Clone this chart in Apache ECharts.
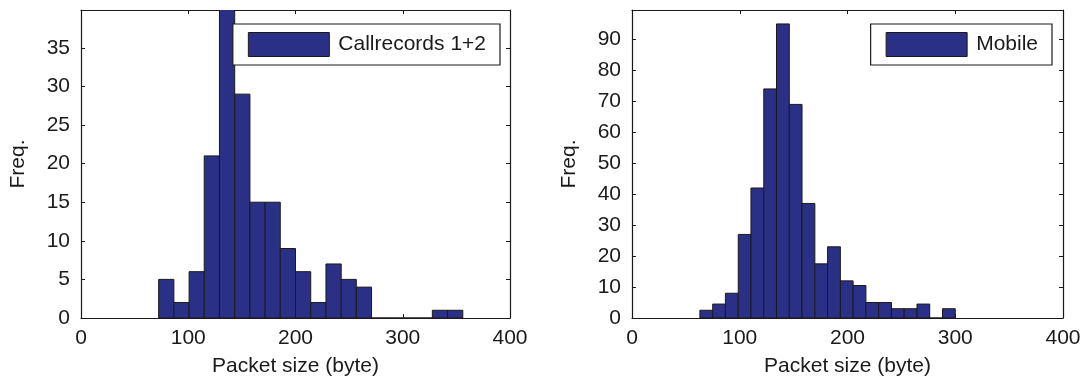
<!DOCTYPE html>
<html>
<head>
<meta charset="utf-8">
<script src="https://cdn.jsdelivr.net/npm/echarts@6/dist/echarts.min.js"></script>
<style>html,body{margin:0;padding:0;background:#fff}#c{width:1087px;height:382px}</style>
</head>
<body>
<div id="c"></div>
<script>
// ---- data ----
const leftName = 'Callrecords 1+2';
const leftEdges = [72.4, 86.6, 100.8, 114.9, 129.1, 143.3, 157.5, 171.7, 185.8, 200.0, 214.2, 228.4, 242.6, 256.7, 270.9, 285.1, 299.3, 313.5, 327.6, 341.8, 356.0];
const leftFreq  = [5, 2, 6, 21, 40, 29, 15, 15, 9, 6, 2, 7, 5, 4, 0, 0, 0, 0, 1, 1];

const rightName = 'Mobile';
const rightEdges = [63.0, 74.9, 86.7, 98.6, 110.4, 122.3, 134.1, 146.0, 157.8, 169.7, 181.5, 193.4, 205.2, 217.1, 228.9, 240.8, 252.6, 264.5, 276.3, 288.2, 300.0];
const rightFreq  = [2.5, 4.5, 8, 27, 42, 74, 95, 69, 37, 17.5, 23, 12, 10.5, 5, 5, 3, 3, 4.5, 0, 3];

const xMin = 0, xMax = 400, xStep = 100;
const leftYMax = 39.9, leftYStep = 5;
const rightYMax = 99.5, rightYStep = 10;
const xTitle = 'Packet size (byte)';
const yTitle = 'Freq.';

// ---- build ----
const FONT = 'Liberation Sans';
const FS = 21;
const TXT = '#1a1a1a';
const BAR = '#2b3087';
const EDGE = '#1a1a1a';

function bins(edges, freq) {
  return freq.map((f, i) => [edges[i], edges[i + 1], f]);
}
function renderBar(params, api) {
  const x0 = api.value(0), x1 = api.value(1), v = api.value(2);
  const p0 = api.coord([x0, 0]);
  const p1 = api.coord([x1, v]);
  return {
    type: 'rect',
    shape: { x: p0[0], y: p1[1], width: p1[0] - p0[0], height: p0[1] - p1[1] },
    style: { fill: BAR, stroke: EDGE, lineWidth: 1 }
  };
}
const axisLine = { show: true, onZero: false, lineStyle: { color: TXT, width: 1.2 } };
const tick = { show: true, inside: true, length: 4, lineStyle: { color: TXT, width: 1 } };
const lbl = { color: TXT, fontFamily: FONT, fontSize: FS };

function xAxes(gi) {
  return [
    { gridIndex: gi, type: 'value', min: xMin, max: xMax, interval: xStep, position: 'bottom',
      axisLine, axisTick: tick, splitLine: { show: false },
      axisLabel: Object.assign({ margin: 10 }, lbl),
      name: xTitle, nameLocation: 'middle', nameGap: 38,
      nameTextStyle: { color: TXT, fontFamily: FONT, fontSize: FS } },
    { gridIndex: gi, type: 'value', min: xMin, max: xMax, interval: xStep, position: 'top',
      axisLine, axisTick: tick, splitLine: { show: false }, axisLabel: { show: false } }
  ];
}
function yAxes(gi, ymax, step) {
  return [
    { gridIndex: gi, type: 'value', min: 0, max: ymax, interval: step, position: 'left',
      axisLine, axisTick: tick, splitLine: { show: false },
      axisLabel: Object.assign({ margin: 11, showMaxLabel: false,
        formatter: v => (Math.abs(v / step - Math.round(v / step)) < 1e-6 ? String(v) : '') }, lbl),
      name: yTitle, nameLocation: 'middle', nameGap: 52, nameRotate: 90,
      nameTextStyle: { color: TXT, fontFamily: FONT, fontSize: FS } },
    { gridIndex: gi, type: 'value', min: 0, max: ymax, interval: step, position: 'right',
      axisLine, axisTick: tick, splitLine: { show: false }, axisLabel: { show: false } }
  ];
}
function legend(name, right) {
  return {
    data: [{ name, icon: 'rect' }],
    right, top: 24, orient: 'horizontal',
    itemWidth: 81, itemHeight: 24, itemGap: 0,
    padding: [8, 14, 8, 15],
    borderColor: TXT, borderWidth: 1.2, backgroundColor: '#fff',
    itemStyle: { color: BAR, borderColor: EDGE, borderWidth: 1 },
    textStyle: { color: TXT, fontFamily: FONT, fontSize: FS, padding: [0, 0, 0, 4] },
    selectedMode: false, z: 10
  };
}

const chart = echarts.init(document.getElementById('c'), null, { renderer: 'canvas' });
chart.setOption({
  animation: false,
  backgroundColor: '#fff',
  grid: [
    { left: 81, right: 577, top: 10, bottom: 64 },
    { left: 632, right: 24, top: 10, bottom: 64 }
  ],
  xAxis: [...xAxes(0), ...xAxes(1)],
  yAxis: [...yAxes(0, leftYMax, leftYStep), ...yAxes(1, rightYMax, rightYStep)],
  legend: [legend(leftName, 587), legend(rightName, 35)],
  series: [
    { name: leftName, type: 'custom', xAxisIndex: 0, yAxisIndex: 0, clip: true,
      itemStyle: { color: BAR }, renderItem: renderBar, encode: { x: [0, 1], y: 2 },
      data: bins(leftEdges, leftFreq) },
    { name: rightName, type: 'custom', xAxisIndex: 2, yAxisIndex: 2, clip: true,
      itemStyle: { color: BAR }, renderItem: renderBar, encode: { x: [0, 1], y: 2 },
      data: bins(rightEdges, rightFreq) }
  ]
});
</script>
</body>
</html>
